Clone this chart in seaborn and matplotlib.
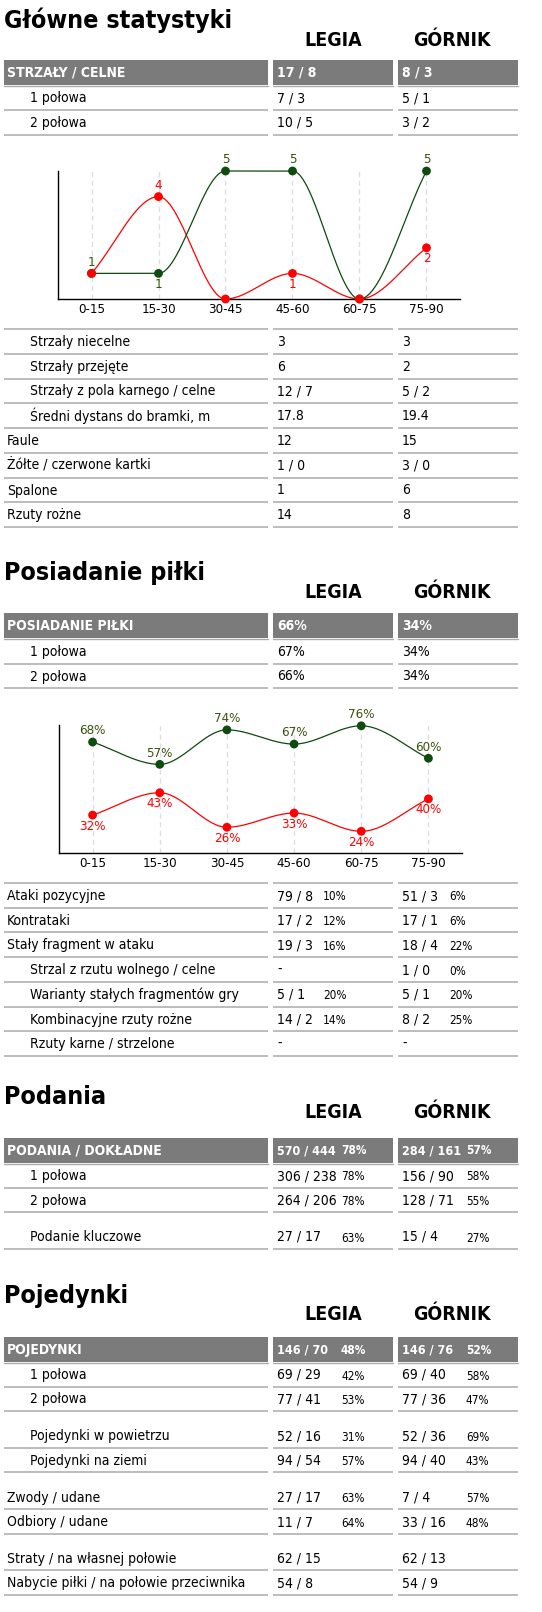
import numpy as np
import pandas as pd
import matplotlib
matplotlib.use("Agg")
import matplotlib.pyplot as plt
import seaborn as sns
from matplotlib import font_manager as fm
from matplotlib.patches import Rectangle

# ---------------- DATA ----------------
periods = ["0-15", "15-30", "30-45", "45-60", "60-75", "75-90"]
shots_legia = [1, 1, 5, 5, 0, 5]
shots_gornik = [1, 4, 0, 1, 0, 2]
poss_legia = [68, 57, 74, 67, 76, 60]
poss_gornik = [32, 43, 26, 33, 24, 40]

s1_title = "Główne statystyki"
s1_header = ["STRZAŁY / CELNE", "17 / 8", "8 / 3"]
s1_top_labels = ["1 połowa", "2 połowa"]
s1_top_legia = ["7 / 3", "10 / 5"]
s1_top_gornik = ["5 / 1", "3 / 2"]
s1_labels = ["Strzały niecelne", "Strzały przejęte", "Strzały z pola karnego / celne",
             "Średni dystans do bramki, m", "Faule", "Żółte / czerwone kartki", "Spalone", "Rzuty rożne"]
s1_legia = ["3", "6", "12 / 7", "17.8", "12", "1 / 0", "1", "14"]
s1_gornik = ["3", "2", "5 / 2", "19.4", "15", "3 / 0", "6", "8"]
s1_indent = [1, 1, 1, 1, 0, 0, 0, 0]

s2_title = "Posiadanie piłki"
s2_header = ["POSIADANIE PIŁKI", "66%", "34%"]
s2_top_labels = ["1 połowa", "2 połowa"]
s2_top_legia = ["67%", "66%"]
s2_top_gornik = ["34%", "34%"]
s2_labels = ["Ataki pozycyjne", "Kontrataki", "Stały fragment w ataku", "Strzal z rzutu wolnego / celne",
             "Warianty stałych fragmentów gry", "Kombinacyjne rzuty rożne", "Rzuty karne / strzelone"]
s2_legia = ["79 / 8", "17 / 2", "19 / 3", "-", "5 / 1", "14 / 2", "-"]
s2_legia_pct = ["10%", "12%", "16%", "", "20%", "14%", ""]
s2_gornik = ["51 / 3", "17 / 1", "18 / 4", "1 / 0", "5 / 1", "8 / 2", "-"]
s2_gornik_pct = ["6%", "6%", "22%", "0%", "20%", "25%", ""]
s2_indent = [0, 0, 0, 1, 1, 1, 1]

s3_title = "Podania"
s3_header = ["PODANIA / DOKŁADNE", "570 / 444", "78%", "284 / 161", "57%"]
s3_labels = ["1 połowa", "2 połowa", "Podanie kluczowe"]
s3_legia = ["306 / 238", "264 / 206", "27 / 17"]
s3_legia_pct = ["78%", "78%", "63%"]
s3_gornik = ["156 / 90", "128 / 71", "15 / 4"]
s3_gornik_pct = ["58%", "55%", "27%"]
s3_gap = [0, 0, 1]

s4_title = "Pojedynki"
s4_header = ["POJEDYNKI", "146 / 70", "48%", "146 / 76", "52%"]
s4_labels = ["1 połowa", "2 połowa", "Pojedynki w powietrzu", "Pojedynki na ziemi",
             "Zwody / udane", "Odbiory / udane", "Straty / na własnej połowie",
             "Nabycie piłki / na połowie przeciwnika"]
s4_legia = ["69 / 29", "77 / 41", "52 / 16", "94 / 54", "27 / 17", "11 / 7", "62 / 15", "54 / 8"]
s4_legia_pct = ["42%", "53%", "31%", "57%", "63%", "64%", "", ""]
s4_gornik = ["69 / 40", "77 / 36", "52 / 36", "94 / 40", "7 / 4", "33 / 16", "62 / 13", "54 / 9"]
s4_gornik_pct = ["58%", "47%", "69%", "43%", "57%", "48%", "", ""]
s4_indent = [1, 1, 1, 1, 0, 0, 0, 0]
s4_gap = [0, 0, 1, 0, 1, 0, 1, 0]

# ---------------- STYLE ----------------
sns.set_theme(style="white")
avail = {f.name for f in fm.fontManager.ttflist}
base = "Liberation Sans Narrow" if "Liberation Sans Narrow" in avail else "DejaVu Sans"
plt.rcParams["font.family"] = [base, "DejaVu Sans"]
plt.rcParams["font.stretch"] = "condensed"
plt.rcParams["text.color"] = "black"
plt.rcParams["xtick.color"] = "black"

GREEN = "#0f4a0f"
GLAB = "#3a520c"
RED = "#ff0000"
BAR = "#7b7b7b"
LINE = "#aaaaaa"
W, H = 542, 1612
C_LAB = (4, 268)
C_LEG = (273, 393)
C_GOR = (398, 518)
ROWFS = 10
PCTFS = 8.5

fig = plt.figure(figsize=(W / 100, H / 100), dpi=100)
ov = fig.add_axes([0, 0, 1, 1])
ov.set_xlim(0, W)
ov.set_ylim(H, 0)
ov.axis("off")


def hline(y):
    for c in (C_LAB, C_LEG, C_GOR):
        ov.plot([c[0], c[1]], [y, y], color=LINE, lw=1.1, solid_capstyle="butt")


def titles(title, yt, yteam):
    ov.text(4, yt, title, fontsize=18, fontweight="bold", va="center", ha="left")
    ov.text(333, yteam, "LEGIA", fontsize=14, fontweight="bold", va="center", ha="center")
    ov.text(452, yteam, "GÓRNIK", fontsize=14, fontweight="bold", va="center", ha="center")


def header(y, texts, pct_x=None):
    for c in (C_LAB, C_LEG, C_GOR):
        ov.add_patch(Rectangle((c[0], y), c[1] - c[0], 25, color=BAR, lw=0))
        ov.plot([c[0], c[1]], [y + 25.5, y + 25.5], color=LINE, lw=1.0)
    yc = y + 13
    kw = dict(fontsize=ROWFS, fontweight="bold", color="white", va="center", ha="left")
    ov.text(C_LAB[0] + 3, yc, texts[0], **kw)
    if len(texts) == 3:
        ov.text(C_LEG[0] + 4, yc, texts[1], **kw)
        ov.text(C_GOR[0] + 4, yc, texts[2], **kw)
    else:
        kv = {**kw, "fontsize": 9}
        ov.text(C_LEG[0] + 4, yc, texts[1], **kv)
        ov.text(pct_x[0], yc, texts[2], **{**kw, "fontsize": PCTFS})
        ov.text(C_GOR[0] + 4, yc, texts[3], **kv)
        ov.text(pct_x[1], yc, texts[4], **{**kw, "fontsize": PCTFS})


def rows(top, pitch, labels, leg, gor, indent=None, legp=None, gorp=None, pct_x=None,
         gaps=None, topline=False, gapsize=12):
    if topline:
        hline(top)
    y = top
    for i, lab in enumerate(labels):
        if gaps is not None and gaps[i]:
            y += gapsize
        yc = y + 13
        ind = indent[i] if indent is not None else 1
        ov.text(30 if ind else 7, yc, lab, fontsize=ROWFS, va="center", ha="left")
        ov.text(C_LEG[0] + 4, yc, leg[i], fontsize=ROWFS, va="center", ha="left")
        ov.text(C_GOR[0] + 4, yc, gor[i], fontsize=ROWFS, va="center", ha="left")
        if legp is not None:
            ov.text(pct_x[0], yc + 1, legp[i], fontsize=PCTFS, va="center", ha="left")
            ov.text(pct_x[1], yc + 1, gorp[i], fontsize=PCTFS, va="center", ha="left")
        y += pitch
        hline(y)
    return y


def monotone(xs, ys, n=60):
    xs = np.asarray(xs, float)
    ys = np.asarray(ys, float)
    h = np.diff(xs)
    d = np.diff(ys) / h
    m = np.zeros_like(ys)
    m[0], m[-1] = d[0], d[-1]
    for i in range(1, len(ys) - 1):
        if d[i - 1] * d[i] <= 0:
            m[i] = 0
        else:
            m[i] = 3 * (h[i - 1] + h[i]) / ((2 * h[i] + h[i - 1]) / d[i - 1] + (h[i] + 2 * h[i - 1]) / d[i])
    ox, oy = [], []
    for i in range(len(h)):
        t = np.linspace(0, 1, n)
        h00 = 2 * t**3 - 3 * t**2 + 1
        h10 = t**3 - 2 * t**2 + t
        h01 = -2 * t**3 + 3 * t**2
        h11 = t**3 - t**2
        ox.append(xs[i] + t * h[i])
        oy.append(h00 * ys[i] + h10 * h[i] * m[i] + h01 * ys[i + 1] + h11 * h[i] * m[i + 1])
    return np.concatenate(ox), np.concatenate(oy)


def chart(box, legia, gornik, ylim, suffix, rule):
    x0, x1, y0, y1 = box
    ax = fig.add_axes([x0 / W, 1 - y1 / H, (x1 - x0) / W, (y1 - y0) / H])
    ax.set_facecolor("none")
    idx = np.arange(len(periods))
    df = pd.DataFrame({"i": np.concatenate([idx, idx]),
                       "v": legia + gornik,
                       "team": ["LEGIA"] * len(idx) + ["GÓRNIK"] * len(idx)})
    for i in idx:
        ax.plot([i, i], [ylim[0], ylim[1]], color="#dddddd", lw=0.9, ls=(0, (4, 3)), zorder=0)
    sx, sy = monotone(idx, gornik)
    ax.plot(sx, sy, color=RED, lw=0.9, zorder=2, clip_on=False)
    sx, sy = monotone(idx, legia)
    ax.plot(sx, sy, color=GREEN, lw=0.9, zorder=2, clip_on=False)
    sns.scatterplot(data=df, x="i", y="v", hue="team", palette={"LEGIA": GREEN, "GÓRNIK": RED},
                    hue_order=["GÓRNIK", "LEGIA"], s=40, edgecolor="none", legend=False, ax=ax,
                    zorder=3, clip_on=False)
    fs = 9.5
    for i in idx:
        g, r = legia[i], gornik[i]
        if rule == "poss":
            ax.annotate(f"{g}{suffix}", (i, g), xytext=(0, 8), textcoords="offset points",
                        ha="center", va="center", fontsize=fs, color=GLAB)
            ax.annotate(f"{r}{suffix}", (i, r), xytext=(0, -8), textcoords="offset points",
                        ha="center", va="center", fontsize=fs, color=RED)
        else:
            if g > 0:
                off = 8 if g >= r else -8
                ax.annotate(f"{g}", (i, g), xytext=(0, off), textcoords="offset points",
                            ha="center", va="center", fontsize=fs, color=GLAB)
            if r > 0 and r != g:
                off = 8 if r > g else -8
                ax.annotate(f"{r}", (i, r), xytext=(0, off), textcoords="offset points",
                            ha="center", va="center", fontsize=fs, color=RED)
    ax.set_xlim(-0.5, 5.5)
    ax.set_ylim(*ylim)
    ax.set_xticks(idx)
    ax.set_xticklabels(periods, fontsize=9.5, color="black")
    ax.set_yticks([])
    ax.set_xlabel("")
    ax.set_ylabel("")
    ax.tick_params(axis="x", length=0, pad=3)
    for s in ("top", "right"):
        ax.spines[s].set_visible(False)
    for s in ("left", "bottom"):
        ax.spines[s].set_color("black")
        ax.spines[s].set_linewidth(1.0)
    return ax


# ---- Section 1 ----
titles(s1_title, 20, 41)
header(60, s1_header)
rows(85, 25, s1_top_labels, s1_top_legia, s1_top_gornik)
chart((58, 460, 171, 299), shots_legia, shots_gornik, (0, 5), "", "shots")
rows(329, 24.75, s1_labels, s1_legia, s1_gornik, indent=s1_indent, topline=True)

# ---- Section 2 ----
titles(s2_title, 573, 592)
header(613, s2_header)
rows(639, 24.5, s2_top_labels, s2_top_legia, s2_top_gornik)
chart((59, 462, 725, 853), poss_legia, poss_gornik, (13.3, 76.4), "%", "poss")
rows(883, 24.7, s2_labels, s2_legia, s2_gornik, indent=s2_indent, legp=s2_legia_pct,
     gorp=s2_gornik_pct, pct_x=(323, 449), topline=True)

# ---- Section 3 ----
titles(s3_title, 1097, 1113)
header(1138, s3_header, pct_x=(341, 466))
rows(1163, 24.5, s3_labels, s3_legia, s3_gornik, legp=s3_legia_pct, gorp=s3_gornik_pct,
     pct_x=(341, 466), gaps=s3_gap, gapsize=12)

# ---- Section 4 ----
titles(s4_title, 1296, 1314)
header(1337, s4_header, pct_x=(341, 466))
rows(1362, 24.5, s4_labels, s4_legia, s4_gornik, indent=s4_indent, legp=s4_legia_pct,
     gorp=s4_gornik_pct, pct_x=(341, 466), gaps=s4_gap, gapsize=12.3)

fig.savefig("out.png", dpi=100)
